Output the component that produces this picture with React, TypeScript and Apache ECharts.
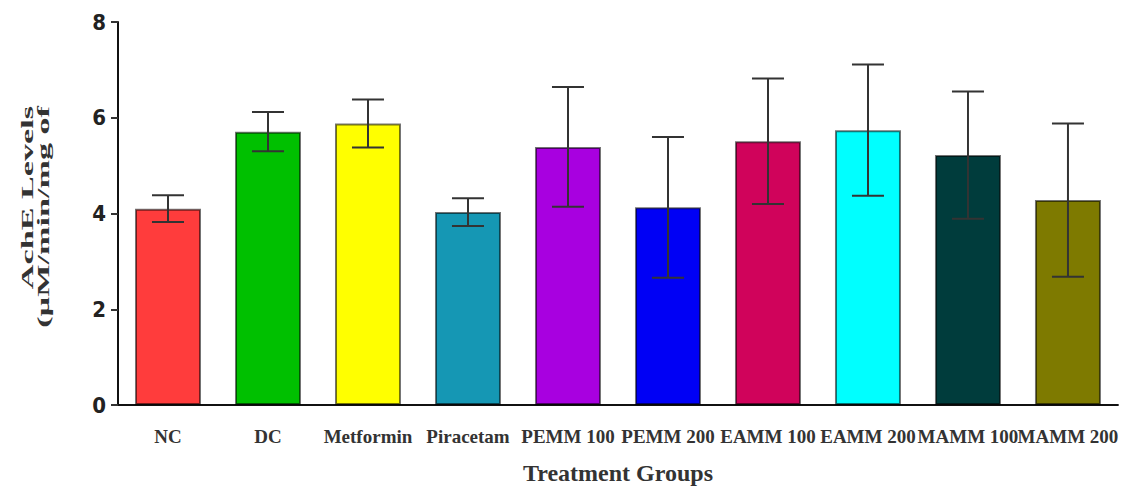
import React, { useEffect, useRef } from "react";
import * as echarts from "echarts";

const categories = ["NC", "DC", "Metformin", "Piracetam", "PEMM 100", "PEMM 200", "EAMM 100", "EAMM 200", "MAMM 100", "MAMM 200"];
const means = [4.10, 5.71, 5.88, 4.03, 5.39, 4.13, 5.51, 5.74, 5.22, 4.28];
const errors = [0.28, 0.41, 0.50, 0.29, 1.25, 1.47, 1.31, 1.37, 1.33, 1.60];
const colors = ["#FF3C3C", "#00C000", "#FFFF00", "#1597B4", "#A800E0", "#0000F5", "#D0035B", "#00FFFF", "#003C3C", "#7E7A00"];
const yTicks = [0, 2, 4, 6, 8];

export default function App() {
  const ref = useRef<HTMLDivElement>(null);
  useEffect(() => {
    if (!ref.current) return;
    const chart = echarts.init(ref.current, undefined, { renderer: "svg" });
    const errData = means.map((m, i) => [i, m - errors[i], m + errors[i]]);
    chart.setOption({
      animation: false,
      backgroundColor: "#fff",
      grid: { left: 118, right: -4, top: 22, bottom: 78, containLabel: false },
      xAxis: {
        type: "category",
        data: categories,
        name: "Treatment Groups",
        nameLocation: "middle",
        nameGap: 56,
        nameTextStyle: { fontFamily: "Liberation Serif", fontWeight: "bold", fontSize: 24, color: "#333" },
        axisLine: { lineStyle: { color: "#111", width: 2 } },
        axisTick: { alignWithLabel: true, length: 7, lineStyle: { color: "#333", width: 2 } },
        axisLabel: { interval: 0, margin: 22, fontFamily: "Liberation Serif", fontWeight: "bold", fontSize: 19, color: "#333" },
      },
      yAxis: {
        type: "value",
        min: yTicks[0],
        max: yTicks[yTicks.length - 1],
        interval: 2,
        splitLine: { show: false },
        axisLine: { show: true, lineStyle: { color: "#111", width: 2 } },
        axisTick: { show: true, length: 7, lineStyle: { color: "#333", width: 2 } },
        axisLabel: { margin: 12, fontFamily: "'Liberation Sans Narrow', 'DejaVu Sans Condensed', 'Liberation Sans'", fontWeight: "bold", fontSize: 22, color: "#222" },
      },
      graphic: [
        {
          type: "text", x: 27, y: 106, rotation: Math.PI / 2, scaleX: 1.8, scaleY: 0.9,
          style: { text: "AchE Levels", font: "bold 19px 'Liberation Serif'", fill: "#333", align: "right", verticalAlign: "middle", textAlign: "right", textVerticalAlign: "middle" },
        },
        {
          type: "text", x: 43, y: 106, rotation: Math.PI / 2, scaleX: 1.8, scaleY: 0.9,
          style: { text: "(µM/min/mg of", font: "bold 19px 'Liberation Serif'", fill: "#333", align: "right", verticalAlign: "middle", textAlign: "right", textVerticalAlign: "middle" },
        },
      ],
      series: [
        {
          type: "bar",
          data: means.map((v, i) => ({ value: v, itemStyle: { color: colors[i] } })),
          barWidth: "66%",
          itemStyle: { borderColor: "rgba(0,0,0,0.55)", borderWidth: 2 },
          z: 2,
        },
        {
          type: "custom",
          data: errData,
          encode: { x: 0, y: [1, 2] },
          z: 5,
          renderItem: (params: any, api: any) => {
            const lo = api.coord([api.value(0), api.value(1)]);
            const hi = api.coord([api.value(0), api.value(2)]);
            const hw = 16;
            const st = { stroke: "#333", lineWidth: 2 };
            return {
              type: "group",
              children: [
                { type: "line", shape: { x1: hi[0], y1: hi[1], x2: lo[0], y2: lo[1] }, style: st },
                { type: "line", shape: { x1: hi[0] - hw, y1: hi[1], x2: hi[0] + hw, y2: hi[1] }, style: st },
                { type: "line", shape: { x1: lo[0] - hw, y1: lo[1], x2: lo[0] + hw, y2: lo[1] }, style: st },
              ],
            };
          },
        },
      ],
    });
    return () => chart.dispose();
  }, []);
  return <div ref={ref} style={{ position: "fixed", left: 0, top: 0, width: 1121, height: 490 }} />;
}
